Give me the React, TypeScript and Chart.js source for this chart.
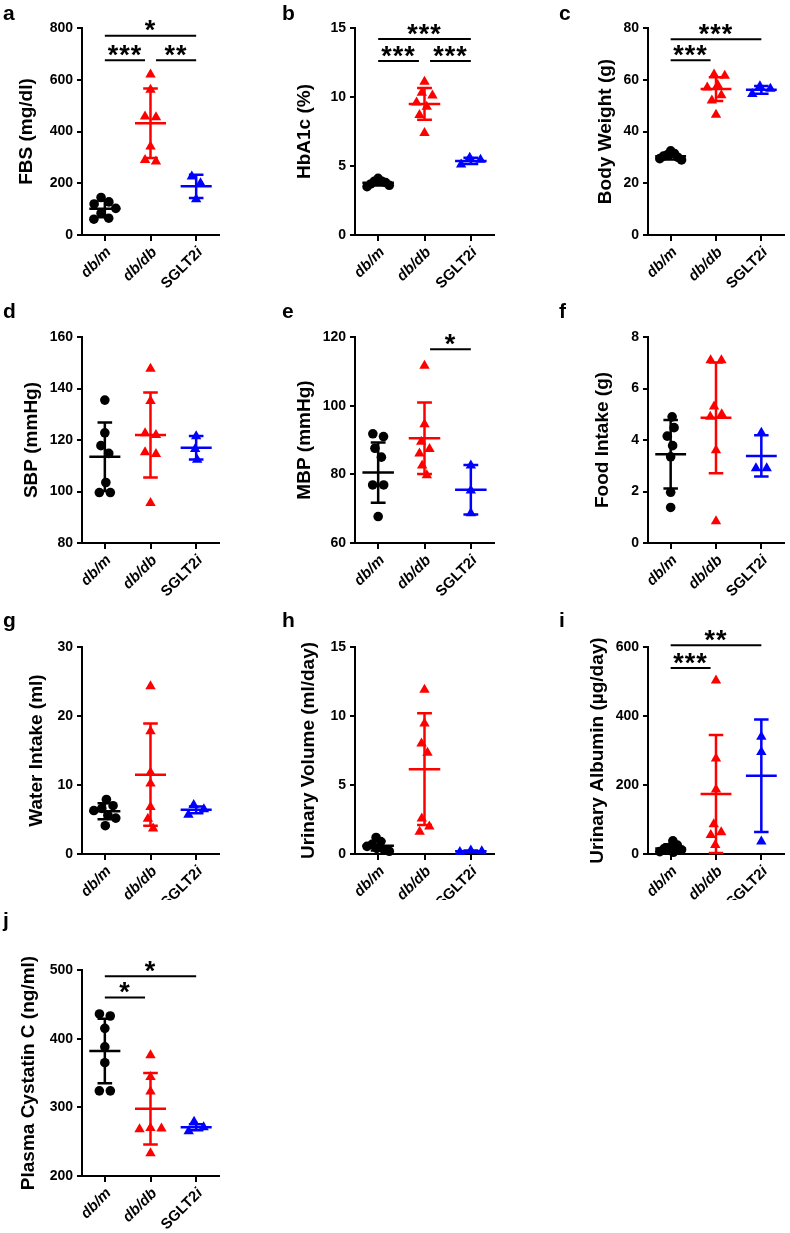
import React, { useEffect, useRef } from "react";
import { Chart, registerables } from "chart.js";

Chart.register(...registerables);

const FONT = "Arial, 'Liberation Sans', Helvetica, sans-serif";
const TITLE_SIZE = 19;
const TICK_SIZE = 14;
const XLABEL_SIZE = 15;
const STAR_SIZE = 27;

// ---------- categories ----------
const GROUPS = ["db/m", "db/db", "SGLT2i"];
const GROUP_LABEL_PARTS: [string, boolean][][] = [
  [["db/m", true]],
  [["db/db", true]],
  [["SGLT2", false], ["i", true]],
];
const GROUP_COLORS = ["#000000", "#ff0000", "#0000ff"];
const GROUP_SHAPES = ["circle", "triangle", "triangle"];

// ---------- a: FBS (mg/dl) ----------
const fbsDbM = [145, 128, 120, 103, 84, 65, 61];
const fbsDbDb = [620, 561, 458, 455, 342, 290, 284];
const fbsSglt = [226, 200, 138];
const fbsMean = [101, 432, 188];
const fbsSd = [32, 134, 45];
const fbsBrackets = [
  { from: 0, to: 2, y: 770, label: "*" },
  { from: 0, to: 1, y: 675, label: "***" },
  { from: 1, to: 2, y: 675, label: "**" },
];

// ---------- b: HbA1c (%) ----------
const hbDbM = [4.1, 3.9, 3.9, 3.8, 3.7, 3.6, 3.5];
const hbDbDb = [11.1, 10.3, 10.1, 9.6, 9.3, 8.7, 7.4];
const hbSglt = [5.6, 5.45, 5.1];
const hbMean = [3.78, 9.5, 5.37];
const hbSd = [0.2, 1.15, 0.22];
const hbBrackets = [
  { from: 0, to: 2, y: 14.2, label: "***" },
  { from: 0, to: 1, y: 12.6, label: "***" },
  { from: 1, to: 2, y: 12.6, label: "***" },
];

// ---------- c: Body Weight (g) ----------
const bwDbM = [32.5, 31.5, 31, 30.5, 30, 29.5, 29];
const bwDbDb = [62, 61.5, 58, 57, 54, 52, 46.5];
const bwSglt = [57.5, 56.5, 54.5];
const bwMean = [30.4, 56.4, 56.1];
const bwSd = [1.2, 4.6, 1.5];
const bwBrackets = [
  { from: 0, to: 2, y: 75.7, label: "***" },
  { from: 0, to: 1, y: 67.5, label: "***" },
];

// ---------- d: SBP (mmHg) ----------
const sbpDbM = [135.5, 122.8, 117.8, 114.8, 103.5, 99.6, 99.6];
const sbpDbDb = [147.7, 135.1, 122.6, 121.9, 115.2, 114.6, 95.5];
const sbpSglt = [121.5, 116.5, 112.3];
const sbpMean = [113.5, 121.9, 117];
const sbpSd = [13.3, 16.5, 4.6];

// ---------- e: MBP (mmHg) ----------
const mbpDbM = [91.8, 91, 87.6, 85, 76.9, 76.9, 67.7];
const mbpDbDb = [111.6, 94.6, 89.5, 87.4, 86.1, 82.6, 79.7];
const mbpSglt = [82.6, 75.3, 68.7];
const mbpMean = [80.5, 90.5, 75.5];
const mbpSd = [8.8, 10.4, 7.2];
const mbpBrackets = [{ from: 1, to: 2, y: 116.4, label: "*" }];

// ---------- f: Food Intake (g) ----------
const foodDbM = [4.9, 4.48, 4.15, 3.78, 3.35, 1.97, 1.38];
const foodDbDb = [7.1, 7.1, 5.3, 5.0, 4.9, 3.6, 0.84];
const foodSglt = [4.28, 2.9, 2.9];
const foodMean = [3.45, 4.86, 3.38];
const foodSd = [1.33, 2.15, 0.8];

// ---------- g: Water Intake (ml) ----------
const waterDbM = [7.9, 7.0, 6.6, 6.3, 5.6, 5.2, 4.1];
const waterDbDb = [24.3, 17.8, 11.8, 10.2, 6.8, 5.1, 3.7];
const waterSglt = [7.1, 6.5, 5.7];
const waterMean = [6.2, 11.5, 6.4];
const waterSd = [1.15, 7.4, 0.5];

// ---------- h: Urinary Volume (ml/day) ----------
const uvDbM = [1.2, 0.9, 0.7, 0.55, 0.4, 0.3, 0.2];
const uvDbDb = [11.9, 9.45, 8.0, 7.33, 2.58, 2.0, 1.62];
const uvSglt = [0.25, 0.2, 0.15];
const uvMean = [0.6, 6.15, 0.2];
const uvSd = [0.35, 4.05, 0.05];

// ---------- i: Urinary Albumin (µg/day) ----------
const albDbM = [38, 26, 19, 16, 12, 7, 5];
const albDbDb = [503, 277, 187, 86, 63, 55, 26];
const albSglt = [340, 296, 36];
const albMean = [16, 174, 227];
const albSd = [12, 171, 163];
const albBrackets = [
  { from: 0, to: 2, y: 605, label: "**" },
  { from: 0, to: 1, y: 539, label: "***" },
];

// ---------- j: Plasma Cystatin C (ng/ml) ----------
const cysDbM = [436, 433, 415, 388, 365, 324, 324];
const cysDbDb = [376, 344, 323, 270, 269, 268, 233];
const cysSglt = [279, 271, 265];
const cysMean = [382, 298, 271];
const cysSd = [47, 52, 4.5];
const cysBrackets = [
  { from: 0, to: 2, y: 491, label: "*" },
  { from: 0, to: 1, y: 460, label: "*" },
];

type Bracket = { from: number; to: number; y: number; label: string };
type PanelCfg = {
  letter: string;
  title: string;
  col: number;
  row: number;
  min: number;
  max: number;
  step: number;
  groups: number[][];
  mean: number[];
  sd: number[];
  brackets: Bracket[];
  titleGap: number;
};

const PANELS: PanelCfg[] = [
  { letter: "a", title: "FBS (mg/dl)", col: 0, row: 0, min: 0, max: 800, step: 200, groups: [fbsDbM, fbsDbDb, fbsSglt], mean: fbsMean, sd: fbsSd, brackets: fbsBrackets, titleGap: 55 },
  { letter: "b", title: "HbA1c (%)", col: 1, row: 0, min: 0, max: 15, step: 5, groups: [hbDbM, hbDbDb, hbSglt], mean: hbMean, sd: hbSd, brackets: hbBrackets, titleGap: 50 },
  { letter: "c", title: "Body Weight (g)", col: 2, row: 0, min: 0, max: 80, step: 20, groups: [bwDbM, bwDbDb, bwSglt], mean: bwMean, sd: bwSd, brackets: bwBrackets, titleGap: 42 },
  { letter: "d", title: "SBP (mmHg)", col: 0, row: 1, min: 80, max: 160, step: 20, groups: [sbpDbM, sbpDbDb, sbpSglt], mean: sbpMean, sd: sbpSd, brackets: [], titleGap: 50 },
  { letter: "e", title: "MBP (mmHg)", col: 1, row: 1, min: 60, max: 120, step: 20, groups: [mbpDbM, mbpDbDb, mbpSglt], mean: mbpMean, sd: mbpSd, brackets: mbpBrackets, titleGap: 50 },
  { letter: "f", title: "Food Intake (g)", col: 2, row: 1, min: 0, max: 8, step: 2, groups: [foodDbM, foodDbDb, foodSglt], mean: foodMean, sd: foodSd, brackets: [], titleGap: 45 },
  { letter: "g", title: "Water Intake (ml)", col: 0, row: 2, min: 0, max: 30, step: 10, groups: [waterDbM, waterDbDb, waterSglt], mean: waterMean, sd: waterSd, brackets: [], titleGap: 45 },
  { letter: "h", title: "Urinary Volume (ml/day)", col: 1, row: 2, min: 0, max: 15, step: 5, groups: [uvDbM, uvDbDb, uvSglt], mean: uvMean, sd: uvSd, brackets: [], titleGap: 46 },
  { letter: "i", title: "Urinary Albumin (\u00b5g/day)", col: 2, row: 2, min: 0, max: 600, step: 200, groups: [albDbM, albDbDb, albSglt], mean: albMean, sd: albSd, brackets: albBrackets, titleGap: 50 },
  { letter: "j", title: "Plasma Cystatin C (ng/ml)", col: 0, row: 3, min: 200, max: 500, step: 100, groups: [cysDbM, cysDbDb, cysSglt], mean: cysMean, sd: cysSd, brackets: cysBrackets, titleGap: 53 },
];

// ---------- layout ----------
const COL_L = [82, 355, 648];
const COL_R = [219, 494, 787];
const ROW_T = [28, 337, 647, 970];
const ROW_B = [235, 543, 854, 1176];
const CELL_X = [0, 262, 526];
const CELL_W = [262, 264, 264];
const CELL_Y = [0, 300, 600, 900];
const CELL_H = [300, 300, 300, 333];
const LETTER_X = [3, 282, 559];
const LETTER_Y = [20, 318, 627, 927];
const BRACKET_TRIM = 0.12;
const SWARM_D = 11;
const SWARM_LIMIT = 0.24;

// deterministic beeswarm spreading (returns offsets in category units)
function swarm(vals: number[], pxPerUnit: number, catPx: number, d: number, limit: number): number[] {
  const order = vals.map((_, i) => i).sort((a, b) => vals[b] - vals[a]);
  const placed: { i: number; x: number; y: number }[] = [];
  for (const i of order) {
    const y = vals[i] * pxPerUnit;
    const cands = [0];
    for (const p of placed) {
      const dy = Math.abs(p.y - y);
      if (dy < d) {
        const dx = Math.sqrt(d * d - dy * dy);
        cands.push(p.x + dx, p.x - dx);
      }
    }
    cands.sort((a, b) => Math.abs(a) - Math.abs(b) || b - a);
    let x = 0;
    for (const c of cands) {
      if (placed.every((p) => (p.x - c) ** 2 + (p.y - y) ** 2 >= d * d - 1e-6)) {
        x = c;
        break;
      }
    }
    placed.push({ i, x, y });
  }
  const byY = [...placed].sort((a, b) => b.y - a.y);
  let start = 0;
  for (let k = 1; k <= byY.length; k++) {
    if (k === byY.length || byY[k - 1].y - byY[k].y >= d) {
      const cl = byY.slice(start, k);
      const mn = Math.min(...cl.map((p) => p.x));
      const mx = Math.max(...cl.map((p) => p.x));
      const sh = -(mn + mx) / 2;
      cl.forEach((p) => (p.x += sh));
      start = k;
    }
  }
  const maxAbs = Math.max(...placed.map((p) => Math.abs(p.x)), 1e-9);
  const lim = limit * catPx;
  const f = maxAbs > lim ? lim / maxAbs : 1;
  const out = new Array(vals.length).fill(0);
  placed.forEach((p) => (out[p.i] = (p.x * f) / catPx));
  return out;
}

function makePlugin(cfg: PanelCfg, cx: number, cy: number) {
  return {
    id: "panelDecor" + cfg.letter,
    afterDatasetsDraw(chart: any) {
      const ctx: CanvasRenderingContext2D = chart.ctx;
      const xs = chart.scales.x;
      const ys = chart.scales.y;
      const cat = xs.getPixelForValue(1) - xs.getPixelForValue(0);
      ctx.save();
      cfg.mean.forEach((m, g) => {
        const x = xs.getPixelForValue(g);
        const yM = ys.getPixelForValue(m);
        const yH = ys.getPixelForValue(m + cfg.sd[g]);
        const yL = ys.getPixelForValue(m - cfg.sd[g]);
        ctx.strokeStyle = GROUP_COLORS[g];
        ctx.lineWidth = 2.5;
        ctx.lineCap = "butt";
        ctx.beginPath();
        ctx.moveTo(x - 0.34 * cat, yM);
        ctx.lineTo(x + 0.34 * cat, yM);
        ctx.moveTo(x, yH);
        ctx.lineTo(x, yL);
        ctx.moveTo(x - 0.16 * cat, yH);
        ctx.lineTo(x + 0.16 * cat, yH);
        ctx.moveTo(x - 0.16 * cat, yL);
        ctx.lineTo(x + 0.16 * cat, yL);
        ctx.stroke();
      });
      ctx.restore();
    },
    afterDraw(chart: any) {
      const ctx: CanvasRenderingContext2D = chart.ctx;
      const xs = chart.scales.x;
      const ys = chart.scales.y;
      ctx.save();
      for (const b of cfg.brackets) {
        const a = b.from === 1 ? b.from + BRACKET_TRIM : b.from;
        const e = b.to === 1 ? b.to - BRACKET_TRIM : b.to;
        const x1 = xs.getPixelForValue(a);
        const x2 = xs.getPixelForValue(e);
        const y = ys.getPixelForValue(b.y);
        ctx.strokeStyle = "#000";
        ctx.lineWidth = 2;
        ctx.beginPath();
        ctx.moveTo(x1, y);
        ctx.lineTo(x2, y);
        ctx.stroke();
        ctx.fillStyle = "#000";
        ctx.font = `bold ${STAR_SIZE}px ${FONT}`;
        (ctx as any).letterSpacing = "1px";
        ctx.textAlign = "center";
        ctx.textBaseline = "alphabetic";
        const mt = ctx.measureText(b.label);
        const base = y - 10 - (mt.actualBoundingBoxDescent - mt.actualBoundingBoxAscent) / 2;
        ctx.fillText(b.label, (x1 + x2) / 2, base);
        (ctx as any).letterSpacing = "0px";
      }
      const bottom = chart.chartArea.bottom;
      GROUPS.forEach((_, g) => {
        const parts = GROUP_LABEL_PARTS[g];
        ctx.save();
        ctx.translate(xs.getPixelForValue(g) + 4, bottom + 15);
        ctx.rotate(-Math.PI / 4);
        ctx.textAlign = "right";
        ctx.textBaseline = "middle";
        ctx.fillStyle = "#000";
        let cur = 0;
        for (let k = parts.length - 1; k >= 0; k--) {
          const [txt, it] = parts[k];
          ctx.font = `${it ? "italic " : ""}bold ${XLABEL_SIZE}px ${FONT}`;
          ctx.fillText(txt, cur, 0);
          cur -= ctx.measureText(txt).width;
        }
        ctx.restore();
      });
      ctx.fillStyle = "#000";
      ctx.font = `bold 21px ${FONT}`;
      ctx.textAlign = "left";
      ctx.textBaseline = "alphabetic";
      ctx.fillText(cfg.letter, LETTER_X[cfg.col] - cx, LETTER_Y[cfg.row] - cy);
      ctx.restore();
    },
  };
}

function Panel({ cfg }: { cfg: PanelCfg }) {
  const ref = useRef<HTMLCanvasElement | null>(null);
  const cx = CELL_X[cfg.col];
  const cy = CELL_Y[cfg.row];
  const cw = CELL_W[cfg.col];
  const ch = CELL_H[cfg.row];
  useEffect(() => {
    if (!ref.current) return;
    const L = COL_L[cfg.col] - cx;
    const R = COL_R[cfg.col] - cx;
    const T = ROW_T[cfg.row] - cy;
    const B = ROW_B[cfg.row] - cy;
    const titleLH = TITLE_SIZE * 1.2;
    const padLeft = L - cfg.titleGap - titleLH / 2;
    const yW = L - padLeft;
    const xH = 6;
    const catPx = (R - L) / 3;
    const pxPerUnit = (B - T) / (cfg.max - cfg.min);
    const datasets = cfg.groups.map((vals, g) => {
      const off = swarm(vals, pxPerUnit, catPx, SWARM_D, SWARM_LIMIT);
      return {
        label: GROUPS[g],
        data: vals.map((v, i) => ({ x: g + off[i], y: v })),
        pointStyle: GROUP_SHAPES[g],
        pointRadius: g === 0 ? 4.8 : 6,
        backgroundColor: GROUP_COLORS[g],
        borderColor: GROUP_COLORS[g],
        borderWidth: 0,
        showLine: false,
        clip: false as any,
      };
    });
    const chart = new Chart(ref.current, {
      type: "scatter",
      data: { datasets },
      options: {
        responsive: false,
        animation: false,
        events: [],
        layout: { padding: { left: padLeft, right: cw - R, top: T, bottom: ch - B - xH } },
        plugins: { legend: { display: false }, tooltip: { enabled: false } },
        scales: {
          x: {
            type: "linear",
            min: -0.5,
            max: 2.5,
            afterBuildTicks: (s: any) => {
              s.ticks = [0, 1, 2].map((v) => ({ value: v }));
            },
            afterFit: (s: any) => {
              s.height = xH;
            },
            ticks: { display: false },
            grid: { drawOnChartArea: false, drawTicks: true, tickLength: 6, color: "#000", lineWidth: 2 },
            border: { display: true, color: "#000", width: 2 },
          },
          y: {
            type: "linear",
            min: cfg.min,
            max: cfg.max,
            afterFit: (s: any) => {
              s.width = yW;
            },
            ticks: {
              stepSize: cfg.step,
              color: "#000",
              padding: 4,
              font: { family: FONT, size: TICK_SIZE, weight: "bold" },
            },
            grid: { drawOnChartArea: false, drawTicks: true, tickLength: 5, color: "#000", lineWidth: 2 },
            border: { display: true, color: "#000", width: 2 },
            title: {
              display: true,
              text: cfg.title,
              color: "#000",
              padding: 0,
              font: { family: FONT, size: TITLE_SIZE, weight: "bold", lineHeight: 1.2 },
            },
          },
        },
      } as any,
      plugins: [makePlugin(cfg, cx, cy)],
    });
    return () => chart.destroy();
  }, [cfg]);
  return (
    <canvas
      ref={ref}
      width={cw}
      height={ch}
      style={{ position: "absolute", left: cx, top: cy, width: cw, height: ch }}
    />
  );
}

export default function App() {
  return (
    <div style={{ position: "absolute", left: 0, top: 0, width: 790, height: 1233, background: "#fff", overflow: "hidden" }}>
      {PANELS.map((p) => (
        <Panel key={p.letter} cfg={p} />
      ))}
    </div>
  );
}
